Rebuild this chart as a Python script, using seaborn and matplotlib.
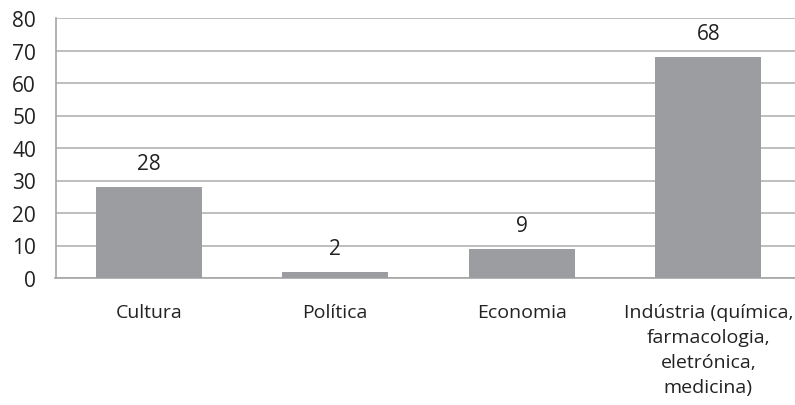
import matplotlib
matplotlib.use("Agg")
import matplotlib.pyplot as plt
import seaborn as sns
import pandas as pd

categories = ["Cultura", "Política", "Economia",
              "Indústria (química,\nfarmacologia,\neletrónica,\nmedicina)"]
values = [28, 2, 9, 68]
yticks = [0, 10, 20, 30, 40, 50, 60, 70, 80]

sns.set_theme(style="white")
plt.rcParams['font.family'] = ['Open Sans', 'DejaVu Sans']

df = pd.DataFrame({"cat": categories, "val": values})
fig = plt.figure(figsize=(7.95, 4.06), dpi=100)
ax = fig.add_axes([55.5/795, 1 - 279/406, 746/795, 260/406])
sns.barplot(data=df, x="cat", y="val", color="#9b9da0", width=0.57,
            saturation=1, ax=ax, zorder=3, edgecolor="none", linewidth=0)
ax.set_ylim(0, 80)
ax.set_yticks(yticks)
ax.set_xlim(-0.5, 3.5)
ax.yaxis.grid(True, color="#b3b3b3", linewidth=1.2, zorder=0)
ax.set_axisbelow(True)
for s in ["top", "right"]:
    ax.spines[s].set_visible(False)
for s in ["left", "bottom"]:
    ax.spines[s].set_color("#a6a6a6")
    ax.spines[s].set_linewidth(1.2)
ax.set_xlabel("")
ax.set_ylabel("")
ax.tick_params(axis="both", length=0, labelsize=15, colors="#222222")
ax.tick_params(axis="x", pad=18, labelsize=14)
ax.tick_params(axis="y", pad=14)
for lab in ax.get_xticklabels():
    lab.set_horizontalalignment("center")
    lab.set_linespacing(1.5)
for c in ax.containers:
    ax.bar_label(c, labels=[str(v) for v in values], padding=9,
                 fontsize=15, color="#222222")
fig.savefig("out.png", dpi=100)
